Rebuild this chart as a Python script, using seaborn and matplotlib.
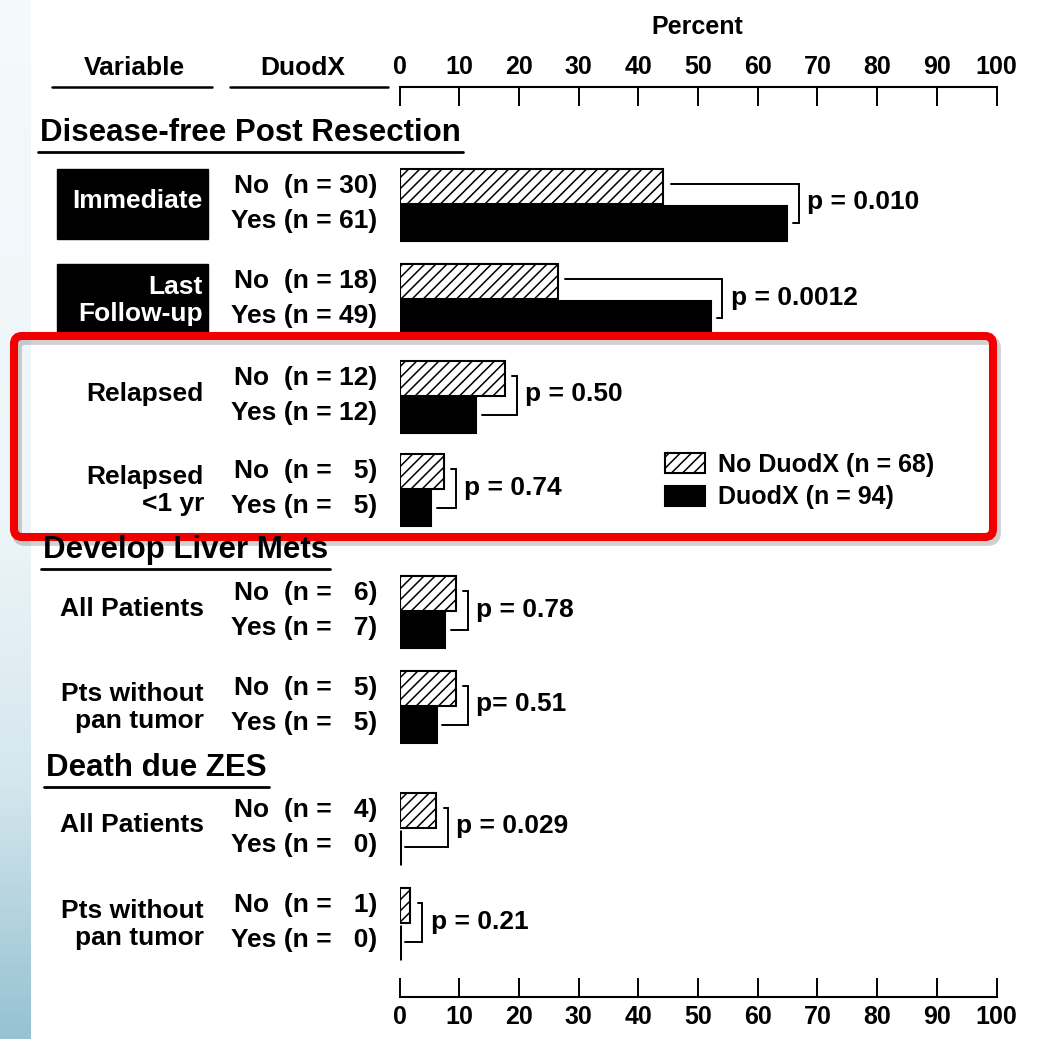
import numpy as np
import pandas as pd
import matplotlib
matplotlib.use("Agg")
import matplotlib.pyplot as plt
import seaborn as sns
from matplotlib.patches import Rectangle, FancyBboxPatch, Patch
from matplotlib.colors import LinearSegmentedColormap

# ── Data ─────────────────────────────────────────────────────────────────────
sections = ["Disease-free Post Resection", "Develop Liver Mets", "Death due ZES"]
variables = ["Immediate", "Last\nFollow-up", "Relapsed", "Relapsed\n<1 yr",
             "All Patients", "Pts without\npan tumor",
             "All Patients", "Pts without\npan tumor"]
no_labels = ["No  (n = 30)", "No  (n = 18)", "No  (n = 12)", "No  (n =   5)",
             "No  (n =   6)", "No  (n =   5)", "No  (n =   4)", "No  (n =   1)"]
yes_labels = ["Yes (n = 61)", "Yes (n = 49)", "Yes (n = 12)", "Yes (n =   5)",
              "Yes (n =   7)", "Yes (n =   5)", "Yes (n =   0)", "Yes (n =   0)"]
no_pct = [44.1, 26.5, 17.6, 7.4, 9.4, 9.4, 6.1, 1.8]
yes_pct = [64.9, 52.1, 12.8, 5.3, 7.7, 6.2, 0.0, 0.0]
p_values = ["p = 0.010", "p = 0.0012", "p = 0.50", "p = 0.74",
            "p = 0.78", "p= 0.51", "p = 0.029", "p = 0.21"]
legend_labels = ["No DuodX (n = 68)", "DuodX (n = 94)"]
ticks = list(range(0, 101, 10))

# ── Layout (pixels) ──────────────────────────────────────────────────────────
W, H = 1038, 1039
X0, X1 = 399.5, 996.5          # x of 0 % and 100 %
Y_TOP, Y_BOT = 87, 997         # top and bottom axis lines
ROW_Y = [186, 281, 378, 471, 593, 688, 810, 905]   # centre of each "No" bar
GAP = 37                       # No -> Yes bar spacing
SECTION_POS = [(40, 133), (43, 550), (46, 768)]
BOXED = [True, True, False, False, False, False, False, False]
FS = 19

sns.set_style("white")
plt.rcParams["font.family"] = ["Liberation Sans", "DejaVu Sans"]
plt.rcParams["font.weight"] = "bold"
plt.rcParams["text.color"] = "black"
plt.rcParams["hatch.linewidth"] = 1.1

fig = plt.figure(figsize=(W / 100, H / 100), dpi=100)
fig.patch.set_facecolor("white")

# left gradient strip
gax = fig.add_axes([0, 0, 31 / W, 1])
grad = np.linspace(0, 1, 256).reshape(-1, 1)
cmap = LinearSegmentedColormap.from_list(
    "strip", [(0, "#f5fafc"), (0.5, "#edf5f8"), (0.75, "#d5e7ee"), (1.0, "#96c2d1")])
gax.imshow(grad, aspect="auto", cmap=cmap)
gax.axis("off")

# main bar axes, y in pixel units
ax = fig.add_axes([X0 / W, (H - Y_BOT) / H, (X1 - X0) / W, (Y_BOT - Y_TOP) / H])
df = pd.DataFrame({
    "pct": no_pct + yes_pct,
    "row": ROW_Y + [y + GAP for y in ROW_Y],
    "DuodX": ["No"] * len(no_pct) + ["Yes"] * len(yes_pct),
})
sns.barplot(data=df, x="pct", y="row", hue="DuodX", orient="h", native_scale=True,
            palette={"No": "white", "Yes": "black"}, dodge=False, width=35 / GAP,
            edgecolor="black", linewidth=1.5, errorbar=None, legend=False, ax=ax)
for bar in ax.patches:
    if bar.get_facecolor()[0] > 0.5:
        bar.set_hatch("///")
    if bar.get_width() == 0:
        bar.set_linewidth(2.2)   # empty groups show as a plain stroke at 0

ax.set_xlim(0, 100)
ax.set_ylim(Y_BOT, Y_TOP)
ax.set_yticks([])
ax.set_xticks(ticks)
ax.set_xlabel("")
ax.set_ylabel("")
for s in ["left", "right"]:
    ax.spines[s].set_visible(False)
for s in ["top", "bottom"]:
    ax.spines[s].set_linewidth(1.5)
    ax.spines[s].set_color("black")
ax.tick_params(axis="x", top=True, bottom=True, labeltop=True, labelbottom=True,
               direction="in", length=14, width=1.4, pad=6, labelsize=18, colors="black")
ax.patch.set_alpha(0)

# p-value brackets
for y0, a, b, ptxt in zip(ROW_Y, no_pct, yes_pct, p_values):
    y1 = y0 + GAP
    xb = max(a, b) + 2.0
    ax.plot([a + 1.3, xb, xb, b + 1.0], [y0 - 2, y0 - 2, y1, y1],
            color="black", lw=1.4, solid_joinstyle="miter", clip_on=False)
    ax.text(xb + 1.4, (y0 + y1) / 2 - 2, ptxt, va="center", ha="left", fontsize=FS)

ax.legend(handles=[Patch(facecolor="white", edgecolor="black", hatch="///", lw=1.5),
                   Patch(facecolor="black", edgecolor="black", lw=1.5)],
          labels=legend_labels, loc="center left",
          bbox_to_anchor=(665 / W, 1 - 481 / H), bbox_transform=fig.transFigure,
          frameon=False, prop={"size": 18, "weight": "bold"},
          handlelength=1.6, handleheight=0.85, handletextpad=0.5,
          labelspacing=0.35, borderpad=0, borderaxespad=0)

# overlay in pixel coordinates for the text columns
pax = fig.add_axes([0, 0, 1, 1])
pax.set_xlim(0, W)
pax.set_ylim(H, 0)
pax.axis("off")
pax.patch.set_alpha(0)

pax.text(697, 27, "Percent", ha="center", va="center", fontsize=18)
pax.text(134, 68, "Variable", ha="center", va="center", fontsize=FS)
pax.text(303, 68, "DuodX", ha="center", va="center", fontsize=FS)
pax.plot([52, 212], [Y_TOP, Y_TOP], color="black", lw=1.8)
pax.plot([230, 388], [Y_TOP, Y_TOP], color="black", lw=1.8)

sec_texts = []
for name, (sx, sy) in zip(sections, SECTION_POS):
    sec_texts.append(pax.text(sx, sy, name, ha="left", va="center", fontsize=22.5))

for y0, var, nl, yl, boxed in zip(ROW_Y, variables, no_labels, yes_labels, BOXED):
    y1 = y0 + GAP
    mid = (y0 + y1) / 2
    ty = mid + 1 if "\n" in var else mid - 3
    if boxed:
        pax.add_patch(Rectangle((57, y0 - 17), 151, 70, facecolor="black", edgecolor="black"))
        pax.text(203, ty, var, ha="right", va="center", fontsize=FS,
                 color="white", linespacing=1.2)
    else:
        pax.text(204, ty, var, ha="right", va="center", fontsize=FS,
                 color="black", linespacing=1.2)
    pax.text(377, y0, nl, ha="right", va="center", fontsize=FS)
    pax.text(377, y1 - 2, yl, ha="right", va="center", fontsize=FS)

# red highlight box with a soft shadow
pax.add_patch(FancyBboxPatch((17, 340), 979, 201, boxstyle="round,pad=0,rounding_size=8",
                             fill=False, edgecolor="black", alpha=0.18, lw=7))
pax.add_patch(FancyBboxPatch((14, 336), 979, 201, boxstyle="round,pad=0,rounding_size=8",
                             fill=False, edgecolor="#f20000", lw=5.8))

# underline the section headers
fig.canvas.draw()
renderer = fig.canvas.get_renderer()
for t, (sx, sy) in zip(sec_texts, SECTION_POS):
    bb = t.get_window_extent(renderer)
    pax.plot([bb.x0 - 2, bb.x1 + 2], [sy + 19, sy + 19], color="black", lw=2.0)

fig.savefig("out.png", dpi=100)
